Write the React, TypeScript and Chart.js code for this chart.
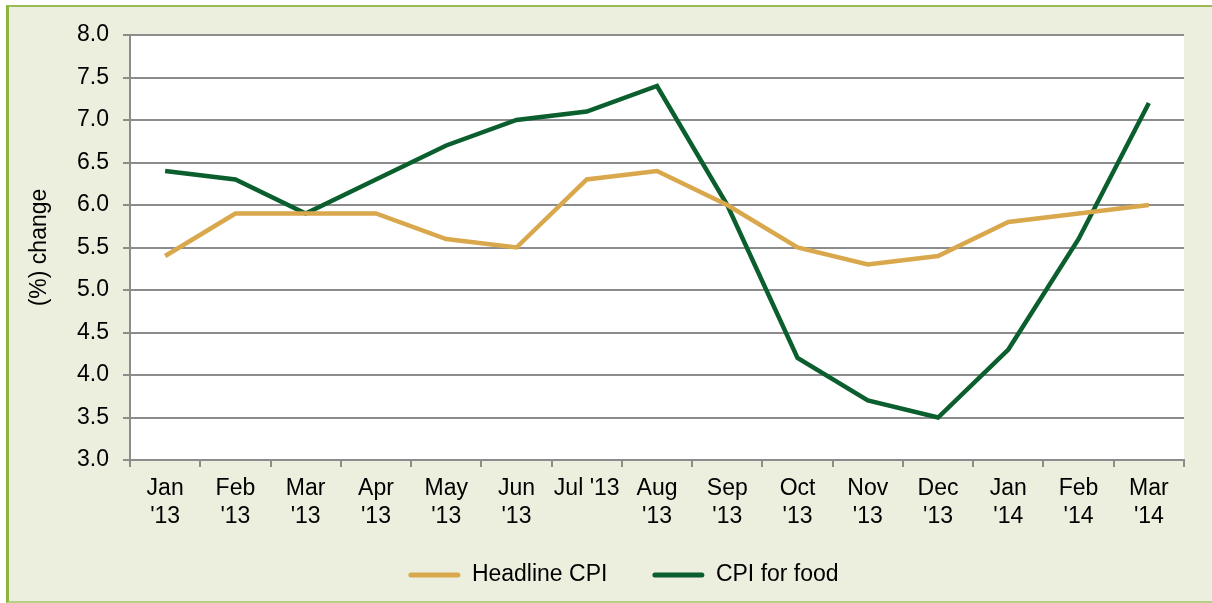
import React, { useEffect, useRef } from "react";
import { Chart, registerables } from "chart.js";

Chart.register(...registerables);

const categories: (string | string[])[] = [
  ["Jan", "'13"], ["Feb", "'13"], ["Mar", "'13"], ["Apr", "'13"], ["May", "'13"],
  ["Jun", "'13"], "Jul '13", ["Aug", "'13"], ["Sep", "'13"], ["Oct", "'13"],
  ["Nov", "'13"], ["Dec", "'13"], ["Jan", "'14"], ["Feb", "'14"], ["Mar", "'14"],
];

const headlineCPI = [5.4, 5.9, 5.9, 5.9, 5.6, 5.5, 6.3, 6.4, 6.0, 5.5, 5.3, 5.4, 5.8, 5.9, 6.0];
const foodCPI = [6.4, 6.3, 5.9, 6.3, 6.7, 7.0, 7.1, 7.4, 6.0, 4.2, 3.7, 3.5, 4.3, 5.6, 7.2];

const seriesNames = ["Headline CPI", "CPI for food"];
const seriesColors = ["#DAA84C", "#0B5F2E"];
const yTitle = "(%) change";

const FONT = "'Liberation Sans', Arial, sans-serif";
const GRID = "#8C8C8C";

export default function App() {
  const ref = useRef<HTMLCanvasElement | null>(null);

  useEffect(() => {
    if (!ref.current) return;
    const whiteArea = {
      id: "whiteArea",
      beforeDraw(chart: any) {
        const { ctx, chartArea } = chart;
        ctx.save();
        ctx.fillStyle = "#FFFFFF";
        ctx.fillRect(chartArea.left, chartArea.top, chartArea.right - chartArea.left, chartArea.bottom - chartArea.top);
        ctx.restore();
      },
    };
    const shiftLegend = {
      id: "shiftLegend",
      afterLayout(chart: any) {
        const lg = chart.legend;
        if (lg) {
          lg.left += 31.5;
          lg.right += 31.5;
          lg.top -= 16.5;
          lg.bottom -= 16.5;
        }
      },
    };
    const chart = new Chart(ref.current, {
      type: "line",
      data: {
        labels: categories,
        datasets: [
          {
            label: seriesNames[0],
            data: headlineCPI,
            borderColor: seriesColors[0],
            backgroundColor: seriesColors[0],
            borderWidth: 4.5,
            pointRadius: 0,
            tension: 0,
          },
          {
            label: seriesNames[1],
            data: foodCPI,
            borderColor: seriesColors[1],
            backgroundColor: seriesColors[1],
            borderWidth: 4.5,
            pointRadius: 0,
            tension: 0,
          },
        ],
      },
      options: {
        responsive: false,
        animation: false,
        devicePixelRatio: 1,
        layout: { padding: { left: 0, right: 28, top: 35, bottom: 0 } },
        plugins: {
          tooltip: { enabled: false },
          legend: {
            position: "bottom",
            labels: {
              boxWidth: 52,
              boxHeight: 5,
              useBorderRadius: true,
              borderRadius: 2.5,
              padding: 45,
              color: "#000000",
              font: { family: FONT, size: 23 },
              generateLabels(chart: any) {
                const items = (Chart.defaults.plugins.legend.labels as any).generateLabels(chart);
                return items.map((it: any) => ({ ...it, lineWidth: 0 }));
              },
            },
          },
        },
        scales: {
          x: {
            type: "category",
            offset: true,
            grid: {
              offset: true,
              drawOnChartArea: false,
              drawTicks: true,
              tickLength: 7,
              color: GRID,
              lineWidth: 2,
            },
            border: { color: GRID, width: 2 },
            ticks: {
              color: "#000000",
              font: { family: FONT, size: 23 },
              padding: 8,
              maxRotation: 0,
              autoSkip: false,
            },
            afterFit(scale: any) {
              scale.height = 75;
            },
          },
          y: {
            min: 3,
            max: 8,
            grid: { color: GRID, lineWidth: 2, tickLength: 7 },
            border: { color: GRID, width: 2 },
            ticks: {
              stepSize: 0.5,
              color: "#000000",
              font: { family: FONT, size: 23 },
              padding: 14,
              callback: (v: any) => Number(v).toFixed(1),
            },
            title: {
              display: true,
              text: yTitle,
              color: "#000000",
              font: { family: FONT, size: 23 },
              padding: { top: 26, bottom: 0 },
            },
            afterFit(scale: any) {
              scale.width = 130;
            },
          },
        },
      },
      plugins: [whiteArea, shiftLegend],
    } as any);
    return () => chart.destroy();
  }, []);

  return (
    <div style={{ position: "fixed", left: 0, top: 0, width: 1212, height: 603, overflow: "hidden", background: "#FFFFFF" }}>
      <div
        style={{
          position: "absolute",
          left: 6,
          top: 5,
          width: 1220,
          height: 598,
          boxSizing: "border-box",
          background: "#ECEFDE",
          borderTop: "2px solid #9BBB59",
          borderLeft: "3px solid #8DB43F",
          borderBottom: "2px solid #B5CF84",
        }}
      />
      <canvas ref={ref} width={1212} height={613} style={{ position: "absolute", left: 0, top: 0, width: 1212, height: 613 }} />
    </div>
  );
}
